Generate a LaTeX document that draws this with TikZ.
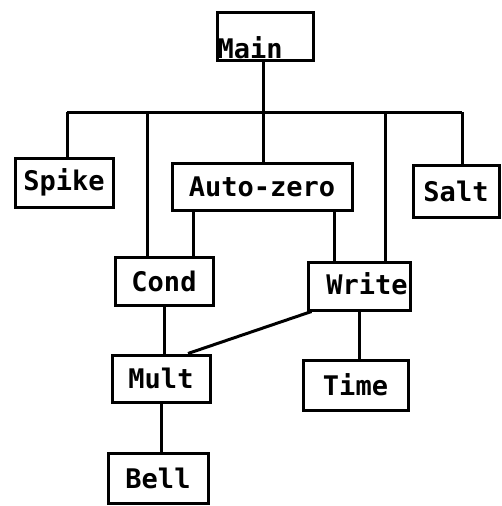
\documentclass[tikz,border=0pt]{standalone}
\usepackage{fontspec}
\setmonofont{DejaVu Sans Mono}
\begin{document}
\begin{tikzpicture}[x=1pt,y=-1pt,
  box/.style={draw, line width=3pt, inner sep=0pt, rectangle, font=\ttfamily\bfseries\fontsize{27}{30}\selectfont},
  txt/.style={inner sep=0pt, font=\ttfamily\bfseries\fontsize{27}{30}\selectfont},
  wire/.style={line width=3pt}]
\useasboundingbox (0,0) rectangle (502,506);
% boxes
\node[box, minimum width=96pt, minimum height=48pt] (main) at (265,36) {};
\node[txt, anchor=base west] (maintext) at ([xshift=2pt,yshift=3pt]main.south west) {Main};
\node[box, minimum width=98pt, minimum height=49pt] (spike) at (64,182.5) {Spike};
\node[box, minimum width=180pt, minimum height=47pt] (autozero) at (262,186.5) {Auto-zero};
\node[box, minimum width=86pt, minimum height=52pt] (salt) at (456,191) {Salt};
\node[box, minimum width=98pt, minimum height=48pt] (cond) at (164,281) {Cond};
\node[box, minimum width=102pt, minimum height=48pt] (write) at (359,286) {};
\node[txt] (writetext) at ([xshift=8pt,yshift=2pt]write.center) {Write};
\node[box, minimum width=98pt, minimum height=47pt] (mult) at (161,378.5) {Mult};
\node[box, minimum width=105pt, minimum height=50pt] (time) at (355.5,385) {Time};
\node[box, minimum width=100pt, minimum height=50pt] (bell) at (158,478) {Bell};
% bus
\coordinate (busL) at (67,112);
\coordinate (busR) at (462,112);
\coordinate (busC) at (147,112);
\coordinate (busW) at (385,112);
\coordinate (m) at ([xshift=-2pt]main.south);
\draw[wire] (busL) -- (busR);
\draw[wire] (m) -- (m |- autozero.north);
\draw[wire] (busL) -- (busL |- spike.north);
\draw[wire] (busC) -- (busC |- cond.north);
\draw[wire] (busW) -- (busW |- write.north);
\draw[wire] (busR) -- (busR |- salt.north);
% lower connectors
\coordinate (a1) at ([xshift=23pt]autozero.south west);
\coordinate (a2) at ([xshift=-19pt]autozero.south east);
\draw[wire] (a1) -- (a1 |- cond.north);
\draw[wire] (a2) -- (a2 |- write.north);
\draw[wire] (cond.south) -- (cond.south |- mult.north);
\draw[wire] (write.south) -- (write.south |- time.north);
\draw[wire] (mult.south) -- (mult.south |- bell.north);
\draw[wire] ([xshift=5pt]write.south west) -- ([xshift=27pt]mult.north);
\end{tikzpicture}
\end{document}
